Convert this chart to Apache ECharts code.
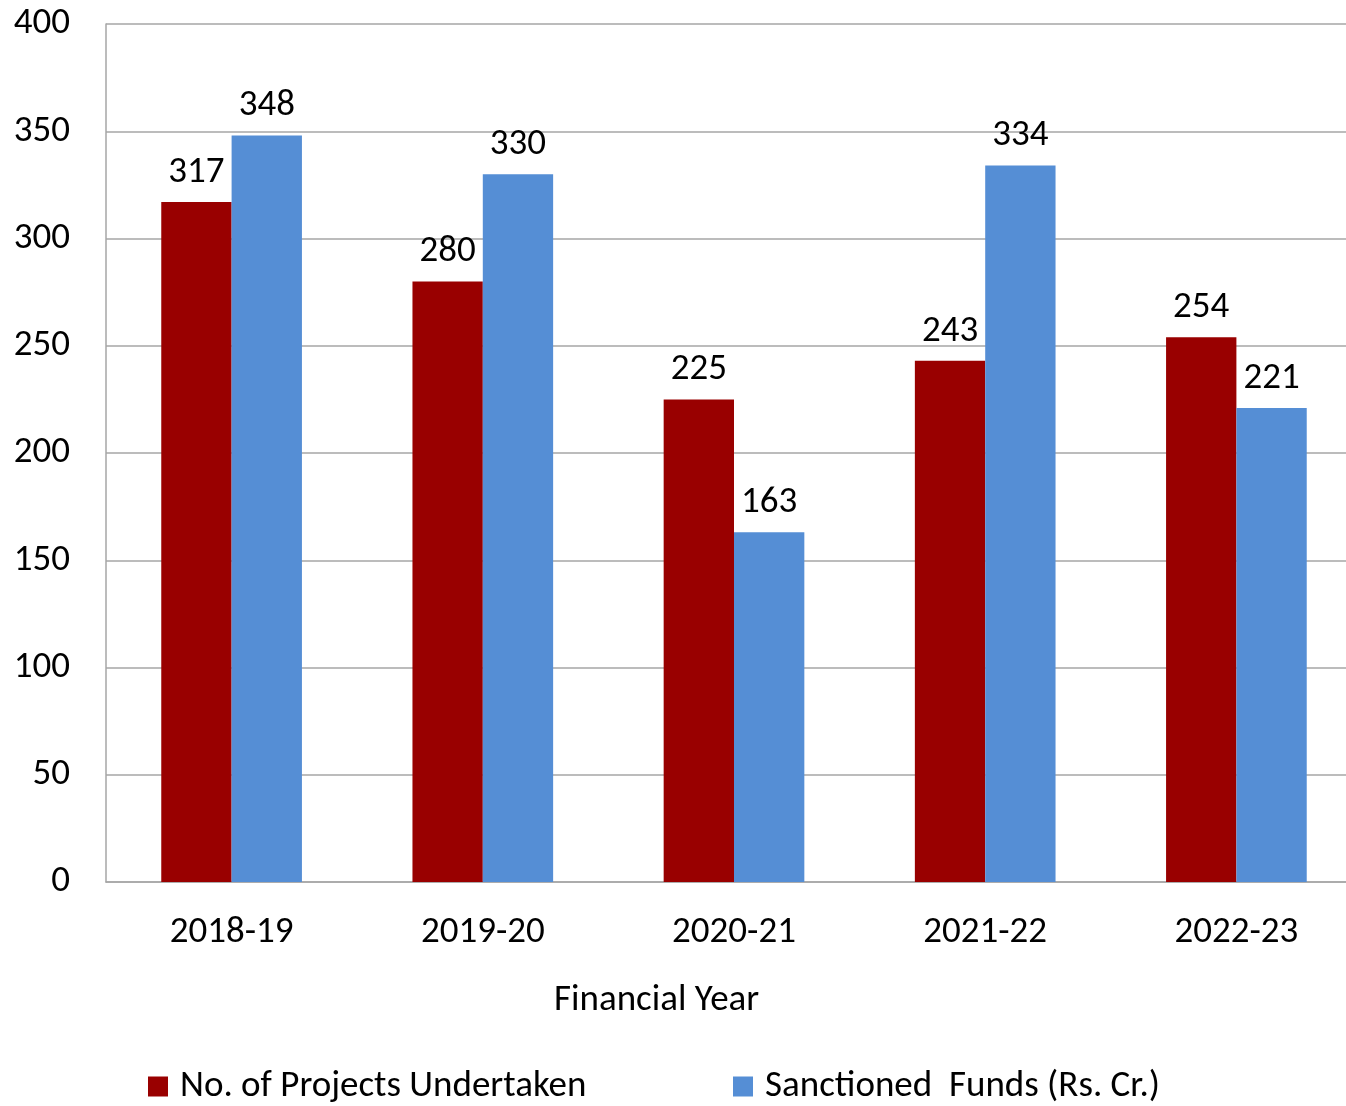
<!DOCTYPE html>
<html><head><meta charset="utf-8">
<script src="https://cdn.jsdelivr.net/npm/echarts@6/dist/echarts.min.js"></script>
<style>html,body{margin:0;padding:0;background:#fff}#c{width:1346px;height:1106px}</style>
</head><body><div id="c"></div>
<script>
const categories = ['2018-19','2019-20','2020-21','2021-22','2022-23'];
const projects = [317, 280, 225, 243, 254];
const funds = [348, 330, 163, 334, 221];
const seriesNames = ['No. of Projects Undertaken', 'Sanctioned  Funds (Rs. Cr.)'];
const yTicks = {min: 0, max: 400, interval: 50};

const FONT = 'Carlito, Calibri, Lato, sans-serif';
const FS = 37;
const chart = echarts.init(document.getElementById('c'), null, {renderer: 'canvas'});
const label = {show: true, position: 'top', distance: 11, color: '#000', fontSize: FS, fontFamily: FONT};
const legendText = {fontSize: FS, color: '#000', fontFamily: FONT, padding: [0, 0, 0, 7]};
chart.setOption({
  animation: false,
  backgroundColor: '#fff',
  textStyle: {fontFamily: FONT},
  grid: {left: 106, width: 1256, top: 24, bottom: 224, containLabel: false, outerBoundsMode: 'none'},
  legend: [
    {left: 143, top: 1063, itemWidth: 20, itemHeight: 20, icon: 'rect', textStyle: legendText, data: [seriesNames[0]]},
    {left: 728, top: 1063, itemWidth: 20, itemHeight: 20, icon: 'rect', textStyle: legendText, data: [seriesNames[1]]}
  ],
  xAxis: {
    type: 'category', data: categories,
    axisLine: {lineStyle: {color: '#a6a6a6', width: 1.5}},
    axisTick: {show: false},
    axisLabel: {fontSize: FS, color: '#000', margin: 32, fontFamily: FONT}
  },
  yAxis: {
    type: 'value', min: yTicks.min, max: yTicks.max, interval: yTicks.interval,
    axisLine: {show: true, lineStyle: {color: '#a6a6a6', width: 1.5}},
    axisTick: {show: false},
    splitLine: {lineStyle: {color: '#a6a6a6', width: 1.5}},
    axisLabel: {fontSize: FS, color: '#000', margin: 36, fontFamily: FONT}
  },
  graphic: [{
    type: 'text', left: 554, top: 982,
    style: {text: 'Financial Year', fontSize: FS, fill: '#000', fontFamily: FONT}
  }],
  series: [
    {name: seriesNames[0], type: 'bar', data: projects, barGap: '0%', barCategoryGap: '44%',
     itemStyle: {color: '#990000'}, label: label},
    {name: seriesNames[1], type: 'bar', data: funds, barGap: '0%', barCategoryGap: '44%',
     itemStyle: {color: '#558ED5'}, label: label}
  ]
});
</script></body></html>
